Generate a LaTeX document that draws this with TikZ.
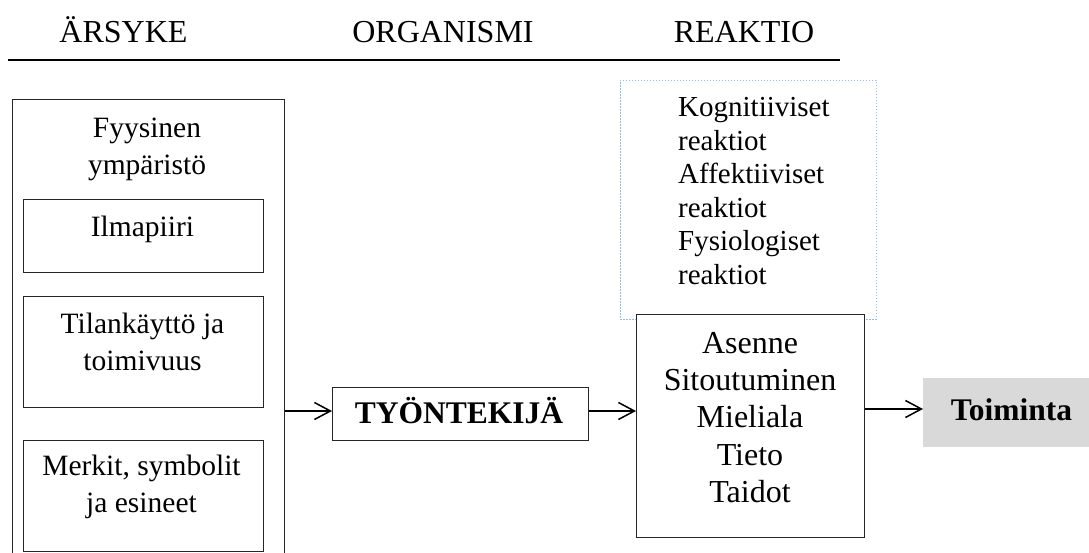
\documentclass[tikz,border=0pt]{standalone}
\usepackage{fontspec}
\setmainfont{Liberation Serif}
\usetikzlibrary{arrows.meta}
\definecolor{dotblue}{RGB}{150,190,228}
\definecolor{toimgray}{RGB}{217,217,217}
\begin{document}
\begin{tikzpicture}[x=1pt,y=-1pt,
  box/.style={draw=black!85, line width=1.3pt, inner sep=0pt, anchor=north west, fill=white},
  dotbox/.style={draw=dotblue, line width=0.9pt, dash pattern=on 1.6pt off 1.4pt, inner sep=0pt, anchor=north west},
  graybox/.style={fill=toimgray, inner sep=0pt, anchor=north west},
  hd/.style={anchor=base, inner sep=0pt, font=\fontsize{32}{38}\selectfont},
  lt/.style={anchor=base, inner sep=0pt, font=\fontsize{29.5}{35}\selectfont},
  rt/.style={anchor=base west, inner sep=0pt, font=\fontsize{29}{35}\selectfont},
  ast/.style={anchor=base, inner sep=0pt, font=\fontsize{32}{38}\selectfont},
  bt/.style={anchor=base, inner sep=0pt, font=\fontsize{31.5}{38}\selectfont\bfseries},
  arr/.style={line width=1.5pt, -{Straight Barb[length=16pt,width=17pt]}}
]
\useasboundingbox (0,0) rectangle (1089,553);

% header
\node[hd] (hA) at (123.5,43) {ÄRSYKE};
\node[hd] (hO) at (443,43) {ORGANISMI};
\node[hd] (hR) at (744,43) {REAKTIO};
\coordinate (h1) at (8,60);
\coordinate (h2) at (840,60);
\draw[line width=2pt] (h1) -- (h2);

% left column
\node[box, minimum width=272pt, minimum height=520pt] (env) at (12,99) {};
\node[lt] (envt1) at (147,138) {Fyysinen};
\node[lt] (envt2) at (147,175) {ympäristö};
\node[box, minimum width=240pt, minimum height=73pt] (ilma) at (23,199) {};
\node[lt] (ilmat) at (142.5,237) {Ilmapiiri};
\node[box, minimum width=240pt, minimum height=111pt] (tila) at (23,296) {};
\node[lt] (tilat1) at (142.5,333) {Tilankäyttö ja};
\node[lt] (tilat2) at (142.5,370) {toimivuus};
\node[box, minimum width=240pt, minimum height=111pt] (merk) at (23,440) {};
\node[lt] (merkt1) at (141.5,475) {Merkit, symbolit};
\node[lt] (merkt2) at (141.5,512) {ja esineet};

% organism
\node[box, minimum width=256pt, minimum height=53pt] (tyo) at (332,387) {};
\node[bt] (tyot) at (459,423) {TYÖNTEKIJÄ};

% reactions
\node[dotbox, minimum width=256pt, minimum height=239pt] (reak) at (620,80) {};
\node[rt] (r1) at (678,116.5) {Kognitiiviset};
\node[rt] (r2) at (678,150.1) {reaktiot};
\node[rt] (r3) at (678,183.7) {Affektiiviset};
\node[rt] (r4) at (678,217.3) {reaktiot};
\node[rt] (r5) at (678,250.9) {Fysiologiset};
\node[rt] (r6) at (678,284.5) {reaktiot};

\node[box, minimum width=228pt, minimum height=223pt] (asen) at (636,314) {};
\node[ast] (as1) at (750,353) {Asenne};
\node[ast] (as2) at (750,390) {Sitoutuminen};
\node[ast] (as3) at (750,427) {Mieliala};
\node[ast] (as4) at (750,465) {Tieto};
\node[ast] (as5) at (750,502) {Taidot};

% action
\node[graybox, minimum width=180pt, minimum height=69pt] (toim) at (923,378) {};
\node[bt] (toimt) at (1011.5,420) {Toiminta};

% arrows
\coordinate (a1) at (0,411);
\coordinate (a2) at (0,409);
\draw[arr] (env.east |- a1) -- (tyo.west |- a1);
\draw[arr] (tyo.east |- a1) -- (asen.west |- a1);
\draw[arr] (asen.east |- a2) -- (toim.west |- a2);
\end{tikzpicture}
\end{document}
